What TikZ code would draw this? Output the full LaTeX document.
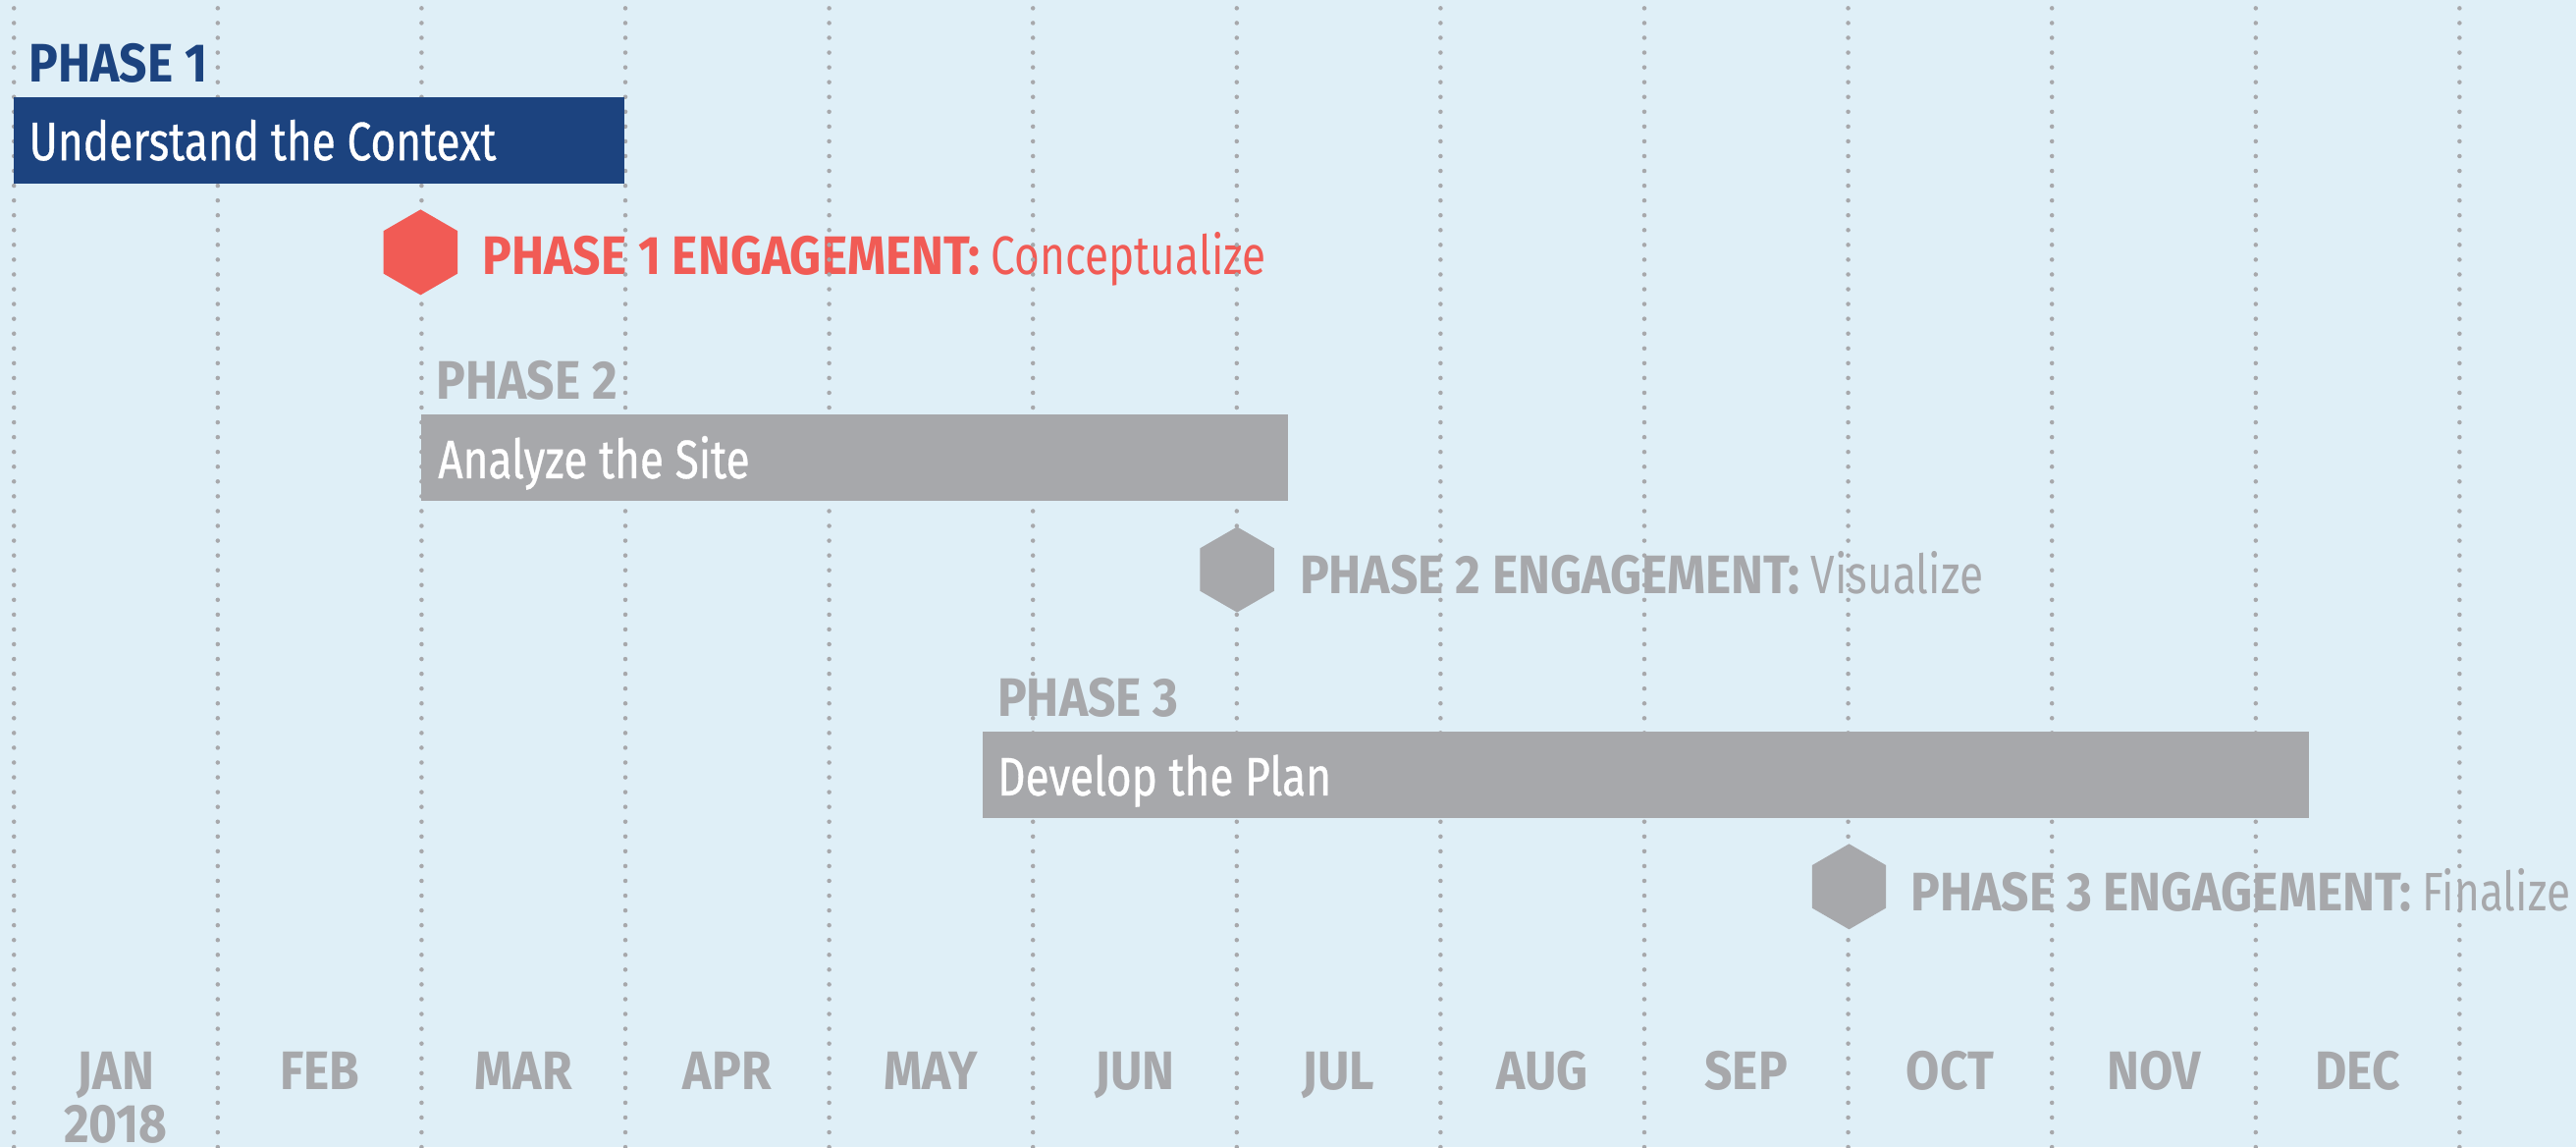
\documentclass[tikz,border=0pt]{standalone}
\usepackage{fontspec}
\setmainfont{Fira Sans}[FakeStretch=0.80, BoldFeatures={FakeStretch=0.90}]
\newfontfamily\barfont{Fira Sans}[FakeStretch=0.80, FakeBold=0.6]
\usetikzlibrary{shapes.geometric}
\definecolor{bgblue}{HTML}{DFEFF7}
\definecolor{navy}{HTML}{1C437F}
\definecolor{coral}{HTML}{F15B55}
\definecolor{slate}{HTML}{A7A8AB}
\begin{document}
\begin{tikzpicture}[x=1pt,y=-1pt,
  txt/.style={anchor=base west, inner sep=0pt, font=\fontsize{33}{36}\selectfont},
  phaselbl/.style={txt, font=\fontsize{33}{36}\selectfont\bfseries},
  bartxt/.style={txt, text=white, font=\fontsize{33}{36}\barfont},
  month/.style={anchor=base, inner sep=0pt, text=slate, font=\fontsize{33}{36}\selectfont\bfseries},
  bar/.style={draw=none, anchor=north west, inner sep=0pt, minimum height=52.5pt},
  hexa/.style={regular polygon, regular polygon sides=6, shape border rotate=30,
               minimum size=52pt, inner sep=0pt, draw=none},
  gridline/.style={draw=slate, line width=2.7pt, line cap=round, dash pattern=on 0pt off 9pt}
]
\useasboundingbox (0,0) rectangle (1568,698);
\clip (0,0) rectangle (1568,698);
\fill[bgblue] (0,0) rectangle (1568,698);

% phase headings
\node[phaselbl, text=navy]  (p1) at (17.5,50)  {PHASE 1};
\node[phaselbl, text=slate] (p2) at (265.5,243) {PHASE 2};
\node[phaselbl, text=slate] (p3) at (607,436)  {PHASE 3};

% engagement labels
\node[txt, text=coral] (e1t) at (293.5,167) {\textbf{PHASE 1 ENGAGEMENT:} Conceptualize};
\node[txt, text=slate] (e2t) at (791,361)   {\textbf{PHASE 2 ENGAGEMENT:} Visualize};
\node[txt, text=slate] (e3t) at (1163,554)  {\textbf{PHASE 3 ENGAGEMENT:} Finalize};

% month axis
\foreach \m [count=\i from 0] in {JAN,FEB,MAR,APR,MAY,JUN,JUL,AUG,SEP,OCT,NOV,DEC}
  \node[month] (m\i) at ({70.5+124.05*\i},663) {\m};
\node[month] (year) at (70.5,695) {2018};

% dotted month dividers
\foreach \i in {0,...,12}
  \draw[gridline] ({8.5+124.05*\i},5) -- ({8.5+124.05*\i},698);

% phase bars
\node[bar, fill=navy,  minimum width=372pt] (b1) at (8,59)   {};
\node[bar, fill=slate, minimum width=527.5pt] (b2) at (256,252) {};
\node[bar, fill=slate, minimum width=807pt] (b3) at (598,445) {};
\node[bartxt] (b1t) at (17.5,97.5) {Understand the Context};
\node[bartxt] (b2t) at (266.5,291) {Analyze the Site};
\node[bartxt] (b3t) at (607,484)  {Develop the Plan};

% engagement markers
\node[hexa, fill=coral] (h1) at (256,153.5) {};
\node[hexa, fill=slate] (h2) at (753,346.6) {};
\node[hexa, fill=slate] (h3) at (1125.5,539.5) {};
\end{tikzpicture}
\end{document}
